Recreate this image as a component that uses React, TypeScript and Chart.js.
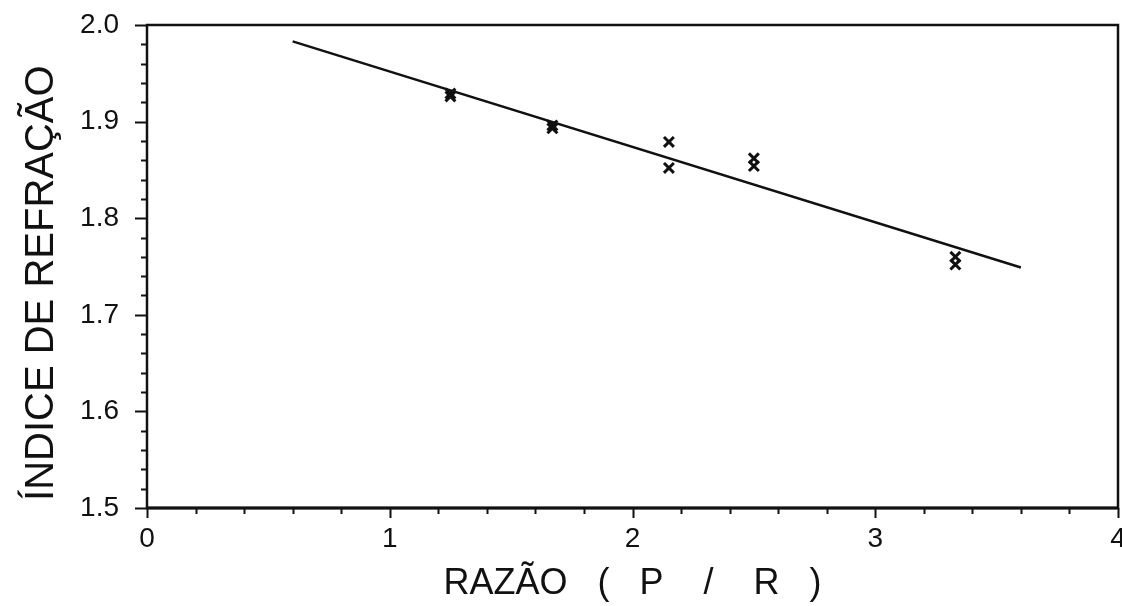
import React, { useEffect, useRef } from "react";
import { Chart, registerables } from "chart.js";

Chart.register(...registerables);

// Measured data: ratio P/R and refractive index
const ratioX = [1.25, 1.25, 1.67, 1.67, 2.15, 2.15, 2.5, 2.5, 3.33, 3.33];
const indexY = [1.929, 1.926, 1.896, 1.893, 1.879, 1.852, 1.862, 1.854, 1.760, 1.752];

// Fitted straight line (end points)
const fitX = [0.6, 3.6];
const fitY = [1.983, 1.749];

// Axis ticks
const xTickLabels = [0, 1, 2, 3, 4];
const yTickLabels = [1.5, 1.6, 1.7, 1.8, 1.9, 2.0];
const xMinorStep = 0.2;
const yMinorStep = 0.02;

const FONT = "'Liberation Sans', Arial, Helvetica, sans-serif";
const INK = "#111";

const framePlugin = {
  id: "frame",
  afterDraw(chart: any) {
    const { ctx, chartArea } = chart;
    const xs = chart.scales.x;
    const ys = chart.scales.y;
    ctx.save();
    ctx.strokeStyle = INK;
    ctx.lineCap = "butt";
    // frame
    ctx.lineWidth = 2.5;
    ctx.strokeRect(chartArea.left, chartArea.top, chartArea.right - chartArea.left, chartArea.bottom - chartArea.top);
    ctx.lineWidth = 3;
    ctx.beginPath();
    ctx.moveTo(chartArea.left, chartArea.bottom);
    ctx.lineTo(chartArea.right, chartArea.bottom);
    ctx.stroke();
    // y ticks (outward, left)
    ctx.lineWidth = 2;
    const yMin = yTickLabels[0];
    const yMax = yTickLabels[yTickLabels.length - 1];
    const nY = Math.round((yMax - yMin) / yMinorStep);
    for (let i = 0; i <= nY; i++) {
      const v = yMin + i * yMinorStep;
      const major = i % 5 === 0;
      const py = Math.round(ys.getPixelForValue(v)) + 0.5;
      ctx.beginPath();
      ctx.moveTo(chartArea.left - (major ? 12 : 6), py);
      ctx.lineTo(chartArea.left, py);
      ctx.stroke();
    }
    // x ticks (outward, down)
    const xMin = xTickLabels[0];
    const xMax = xTickLabels[xTickLabels.length - 1];
    const nX = Math.round((xMax - xMin) / xMinorStep);
    for (let i = 0; i <= nX; i++) {
      const v = xMin + i * xMinorStep;
      const major = i % 5 === 0;
      const px = Math.round(xs.getPixelForValue(v)) + 0.5;
      ctx.beginPath();
      ctx.moveTo(px, chartArea.bottom);
      ctx.lineTo(px, chartArea.bottom + (major ? 10 : 6));
      ctx.stroke();
    }
    ctx.restore();
  },
};

export default function App() {
  const canvasRef = useRef<HTMLCanvasElement | null>(null);

  useEffect(() => {
    if (!canvasRef.current) return;
    const points = ratioX.map((x, i) => ({ x, y: indexY[i] }));
    const line = fitX.map((x, i) => ({ x, y: fitY[i] }));
    const chart = new Chart(canvasRef.current, {
      type: "scatter",
      data: {
        datasets: [
          {
            label: "Ajuste",
            data: line,
            showLine: true,
            borderColor: INK,
            borderWidth: 2.5,
            pointRadius: 0,
            fill: false,
          },
          {
            label: "Medidas",
            data: points,
            pointStyle: "crossRot",
            pointRadius: 7,
            borderColor: INK,
            backgroundColor: INK,
            pointBorderWidth: 3,
            showLine: false,
          },
        ],
      },
      options: {
        animation: false,
        responsive: true,
        maintainAspectRatio: false,
        layout: { autoPadding: false, padding: { top: 25, right: 4, left: 0, bottom: 0 } },
        plugins: {
          legend: { display: false },
          tooltip: { enabled: false },
        },
        scales: {
          x: {
            type: "linear",
            min: xTickLabels[0],
            max: xTickLabels[xTickLabels.length - 1],
            afterBuildTicks: (s: any) => {
              s.ticks = xTickLabels.map((v) => ({ value: v }));
            },
            ticks: {
              color: INK,
              font: { family: FONT, size: 28 },
              padding: 14,
              maxRotation: 0,
              callback: (v: any) => String(v),
            },
            grid: { display: false, drawTicks: false },
            border: { display: false },
            title: {
              display: true,
              text: "RAZÃO   (   P    /    R   )",
              color: INK,
              font: { family: FONT, size: 36 },
              padding: { top: 0, bottom: 0 },
            },
            afterFit: (s: any) => {
              s.height = 98;
              s.paddingLeft = 0;
              s.paddingRight = 0;
            },
          },
          y: {
            type: "linear",
            min: yTickLabels[0],
            max: yTickLabels[yTickLabels.length - 1],
            afterBuildTicks: (s: any) => {
              s.ticks = yTickLabels.map((v) => ({ value: v }));
            },
            ticks: {
              color: INK,
              font: { family: FONT, size: 28 },
              padding: 28,
              callback: (v: any) => Number(v).toFixed(1),
            },
            grid: { display: false, drawTicks: false },
            border: { display: false },
            title: {
              display: true,
              text: "ÍNDICE DE REFRAÇÃO   ",
              color: INK,
              font: { family: FONT, size: 40 },
              padding: { top: 18, bottom: 0 },
            },
            afterFit: (s: any) => {
              s.width = 147;
              s.paddingTop = 0;
              s.paddingBottom = 0;
            },
          },
        },
      },
      plugins: [framePlugin],
    });
    return () => chart.destroy();
  }, []);

  return (
    <div style={{ position: "fixed", left: 0, top: 0, width: 1122, height: 606, background: "#fff" }}>
      <canvas ref={canvasRef} />
    </div>
  );
}
